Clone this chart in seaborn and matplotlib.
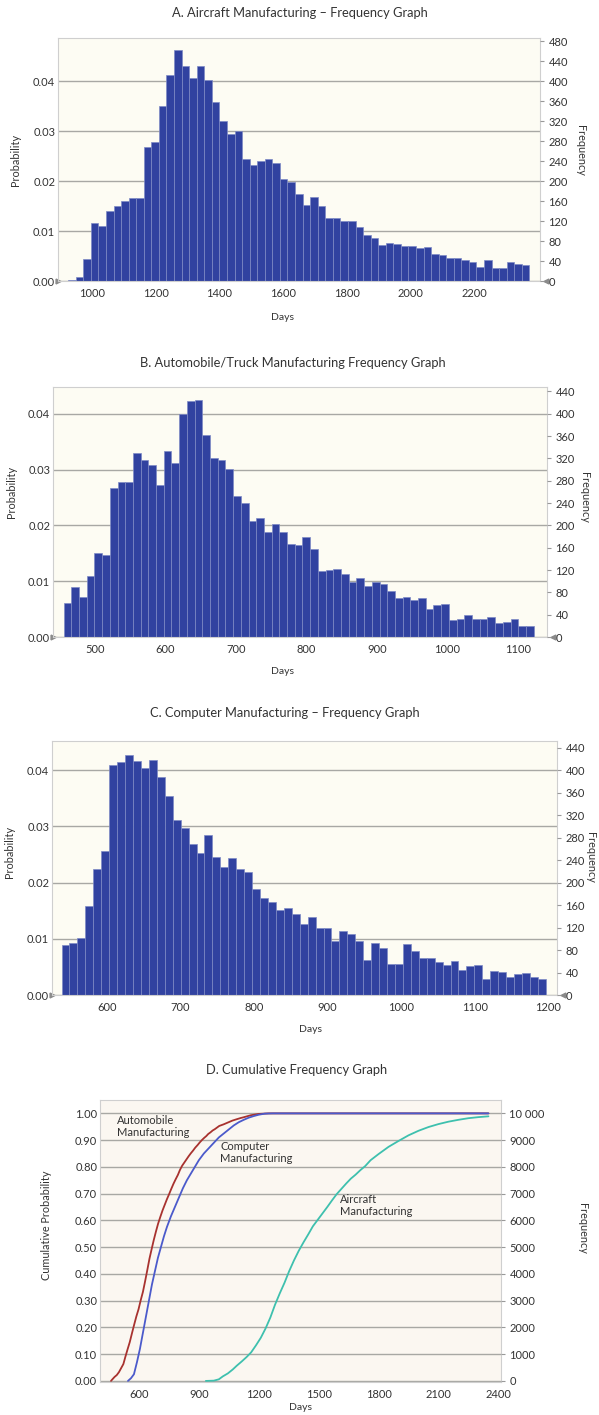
import numpy as np
import pandas as pd
import seaborn as sns
import matplotlib
matplotlib.use('Agg')
import matplotlib.pyplot as plt
from matplotlib.ticker import FuncFormatter


# histogram data (probability per bin)
aircraft_start = 925
aircraft_width = 23.75
aircraft_prob = [0.0003, 0.0008, 0.0045, 0.0117, 0.0110, 0.0140, 0.0150, 0.0160, 0.0166, 0.0167,
                 0.0268, 0.0278, 0.0350, 0.0412, 0.0462, 0.0431, 0.0406, 0.0430, 0.0402, 0.0358,
                 0.0320, 0.0295, 0.0300, 0.0245, 0.0233, 0.0240, 0.0245, 0.0237, 0.0205, 0.0199,
                 0.0175, 0.0152, 0.0169, 0.0151, 0.0127, 0.0127, 0.0120, 0.0120, 0.0108, 0.0093,
                 0.0087, 0.0072, 0.0076, 0.0074, 0.0071, 0.0071, 0.0066, 0.0069, 0.0055, 0.0053,
                 0.0047, 0.0047, 0.0043, 0.0039, 0.0028, 0.0043, 0.0027, 0.0027, 0.0039, 0.0034,
                 0.0032]

auto_start = 456
auto_width = 10.92
auto_prob = [0.0061, 0.0090, 0.0071, 0.0110, 0.0151, 0.0147, 0.0267, 0.0278, 0.0278, 0.0330,
             0.0318, 0.0309, 0.0273, 0.0334, 0.0312, 0.0400, 0.0423, 0.0424, 0.0362, 0.0320,
             0.0318, 0.0301, 0.0252, 0.0241, 0.0208, 0.0213, 0.0188, 0.0202, 0.0188, 0.0167,
             0.0165, 0.0180, 0.0157, 0.0119, 0.0120, 0.0121, 0.0113, 0.0099, 0.0106, 0.0091,
             0.0099, 0.0095, 0.0082, 0.0070, 0.0072, 0.0067, 0.0070, 0.0050, 0.0057, 0.0059,
             0.0030, 0.0032, 0.0040, 0.0033, 0.0032, 0.0035, 0.0025, 0.0027, 0.0033, 0.0019,
             0.0019]

computer_start = 538
computer_width = 10.8
computer_prob = [0.0089, 0.0092, 0.0101, 0.0159, 0.0224, 0.0257, 0.0409, 0.0414, 0.0427, 0.0417,
                 0.0404, 0.0419, 0.0388, 0.0355, 0.0312, 0.0298, 0.0268, 0.0253, 0.0285, 0.0246,
                 0.0228, 0.0243, 0.0224, 0.0218, 0.0189, 0.0172, 0.0165, 0.0151, 0.0155, 0.0145,
                 0.0126, 0.0138, 0.0119, 0.0119, 0.0096, 0.0114, 0.0108, 0.0096, 0.0063, 0.0093,
                 0.0084, 0.0055, 0.0056, 0.0091, 0.0079, 0.0065, 0.0066, 0.0058, 0.0054, 0.0060,
                 0.0044, 0.0052, 0.0053, 0.0028, 0.0043, 0.0041, 0.0032, 0.0038, 0.0039, 0.0032,
                 0.0029]

# cumulative curves
auto_days = [460, 467, 478, 489, 500, 511, 522, 532, 543, 554, 565, 576, 587, 598, 609, 620, 631,
             642, 653, 664, 674, 685, 696, 707, 718, 729, 740, 751, 762, 773, 784, 795, 805, 816,
             827, 838, 849, 860, 871, 882, 893, 904, 915, 926, 937, 947, 958, 969, 980, 991, 1002,
             1024, 1046, 1068, 1089, 1111, 1122, 1160, 1200, 1250, 2350]
auto_cum = [0.0, 0.006, 0.015, 0.022, 0.033, 0.048, 0.063, 0.09, 0.118, 0.145, 0.178, 0.21, 0.241,
            0.268, 0.302, 0.333, 0.373, 0.415, 0.458, 0.494, 0.526, 0.558, 0.588, 0.613, 0.637,
            0.658, 0.679, 0.698, 0.718, 0.737, 0.754, 0.77, 0.788, 0.804, 0.816, 0.828, 0.84,
            0.851, 0.861, 0.872, 0.881, 0.891, 0.9, 0.908, 0.915, 0.923, 0.929, 0.936, 0.941,
            0.947, 0.953, 0.959, 0.966, 0.973, 0.978, 0.983, 0.985, 0.993, 0.998, 1.0, 1.0]

computer_days = [545, 560, 575, 590, 605, 620, 635, 650, 665, 680, 695, 710, 725, 740, 760, 780,
                 800, 820, 840, 860, 880, 900, 925, 950, 975, 1000, 1025, 1050, 1075, 1100, 1125,
                 1150, 1175, 1200, 1230, 1270, 2350]
computer_cum = [0.0, 0.01, 0.025, 0.07, 0.12, 0.18, 0.24, 0.30, 0.36, 0.41, 0.46, 0.50, 0.54,
                0.575, 0.615, 0.65, 0.685, 0.72, 0.75, 0.775, 0.80, 0.825, 0.85, 0.87, 0.89, 0.91,
                0.925, 0.94, 0.955, 0.967, 0.976, 0.984, 0.99, 0.995, 0.999, 1.0, 1.0]

aircraft_days = [935, 975, 1000, 1020, 1045, 1070, 1090, 1115, 1140, 1162, 1186, 1210, 1234, 1258,
                 1281, 1305, 1329, 1352, 1376, 1400, 1424, 1448, 1471, 1495, 1519, 1543, 1566,
                 1590, 1614, 1638, 1661, 1685, 1709, 1733, 1760, 1800, 1850, 1900, 1950, 2000,
                 2050, 2100, 2150, 2200, 2250, 2300, 2350]
aircraft_cum = [0.0, 0.001, 0.006, 0.017, 0.028, 0.043, 0.057, 0.073, 0.09, 0.107, 0.133, 0.161,
                0.196, 0.237, 0.284, 0.327, 0.367, 0.41, 0.45, 0.486, 0.518, 0.548, 0.578, 0.602,
                0.626, 0.65, 0.674, 0.698, 0.718, 0.738, 0.756, 0.771, 0.788, 0.803, 0.825, 0.848,
                0.875, 0.897, 0.918, 0.935, 0.949, 0.96, 0.969, 0.976, 0.982, 0.986, 0.989]

titles = ['A. Aircraft Manufacturing \u2013 Frequency Graph',
          'B. Automobile/Truck Manufacturing Frequency Graph',
          'C. Computer Manufacturing \u2013 Frequency Graph',
          'D. Cumulative Frequency Graph']

BAR = '#3142a0'
EDGE = '#7e8ac6'
BG = '#fdfcf3'
BG_D = '#fbf7f1'
GRID = '#a8a8a4'
SPINE = '#cfcfcf'
TXT = '#333333'

sns.set_style('white')
plt.rcParams['font.family'] = ['Lato', 'DejaVu Sans']
plt.rcParams['text.color'] = TXT
plt.rcParams['xtick.color'] = TXT
plt.rcParams['ytick.color'] = TXT

W, H = 599, 1415
fig = plt.figure(figsize=(W / 100, H / 100), dpi=100)


def rect(l, t, r, b):
    return [l / W, 1 - b / H, (r - l) / W, (b - t) / H]


def style_axes(ax, bg):
    ax.set_facecolor(bg)
    for s in ax.spines.values():
        s.set_color(SPINE)
        s.set_linewidth(0.8)
    ax.grid(axis='y', color=GRID, lw=1)
    ax.grid(axis='x', visible=False)
    ax.set_axisbelow(True)
    ax.tick_params(axis='y', length=0, labelsize=8, pad=2)
    ax.tick_params(axis='x', length=3, color='#999999', labelsize=8, pad=2)
    ax.set_xlabel('')
    ax.set_ylabel('')


def hist_panel(pos, start, width, probs, xlim, ytop, xticks, rmax):
    ax = fig.add_axes(rect(*pos))
    edges = list(start + width * np.arange(len(probs) + 1))
    df = pd.DataFrame({'days': np.array(edges[:-1]) + width / 2, 'prob': probs})
    sns.histplot(data=df, x='days', weights='prob', bins=edges, ax=ax, color=BAR, alpha=1,
                 edgecolor=EDGE, linewidth=0.5)
    style_axes(ax, BG)
    ax.set_xlim(*xlim)
    ax.set_ylim(0, ytop)
    ax.set_xticks(xticks)
    ax.set_yticks([0, 0.01, 0.02, 0.03, 0.04])
    ax.yaxis.set_major_formatter(FuncFormatter(lambda v, p: f'{v:.2f}'))
    # little zero markers on both sides
    ax.plot([0], [0], marker='>', ms=3.5, color='#8a8a8a', transform=ax.transAxes, clip_on=False)
    ax.plot([1.012], [0], marker='<', ms=3.5, color='#8a8a8a', transform=ax.transAxes, clip_on=False)
    tw = ax.twinx()
    tw.set_ylim(0, ytop * 10000)
    tw.set_yticks(range(0, rmax + 1, 40))
    tw.tick_params(axis='y', length=3, color='#999999', labelsize=8, pad=3)
    for s in tw.spines.values():
        s.set_visible(False)
    tw.grid(False)
    return ax


hist_panel((58, 38, 540, 281), aircraft_start, aircraft_width, aircraft_prob,
           (893, 2407), 0.0487, [1000, 1200, 1400, 1600, 1800, 2000, 2200], 480)
hist_panel((53, 387, 547, 637), auto_start, auto_width, auto_prob,
           (441, 1141), 0.0448, [500, 600, 700, 800, 900, 1000, 1100], 440)
hist_panel((52, 741, 557, 995), computer_start, computer_width, computer_prob,
           (525, 1212), 0.0452, [600, 700, 800, 900, 1000, 1100, 1200], 440)

# panel D: cumulative curves
axd = fig.add_axes(rect(100, 1100, 501, 1382))
sns.lineplot(x=auto_days, y=auto_cum, ax=axd, color='#a8322f', lw=1.3)
sns.lineplot(x=computer_days, y=computer_cum, ax=axd, color='#4b5acb', lw=1.3)
sns.lineplot(x=aircraft_days, y=aircraft_cum, ax=axd, color='#3ec0ae', lw=1.3)
style_axes(axd, BG_D)
axd.set_xlim(405, 2413)
axd.set_ylim(-0.004, 1.05)
axd.set_xticks([600, 900, 1200, 1500, 1800, 2100, 2400])
axd.set_yticks(np.arange(0, 1.01, 0.1))
axd.yaxis.set_major_formatter(FuncFormatter(lambda v, p: f'{v:.2f}'))
twd = axd.twinx()
twd.set_ylim(-40, 10500)
twd.set_yticks(range(0, 10001, 1000))
twd.yaxis.set_major_formatter(FuncFormatter(lambda v, p: '10 000' if v == 10000 else f'{int(v)}'))
twd.tick_params(axis='y', length=3, color='#999999', labelsize=8, pad=3)
for s in twd.spines.values():
    s.set_visible(False)
twd.grid(False)

axd.text(490, 0.995, 'Automobile\nManufacturing', fontsize=8, va='top', ha='left', linespacing=1.15)
axd.text(1006, 0.898, 'Computer\nManufacturing', fontsize=8, va='top', ha='left', linespacing=1.15)
axd.text(1606, 0.70, 'Aircraft\nManufacturing', fontsize=8, va='top', ha='left', linespacing=1.15)

# titles and axis labels
for (x, y), t in zip([(300, 13), (293, 363), (285, 713), (297, 1070)], titles):
    fig.text(x / W, 1 - y / H, t, fontsize=9.3, ha='center', va='center')

for x, y in [(282, 318), (283, 671), (310, 1029), (300, 1408)]:
    fig.text(x / W, 1 - y / H, 'Days', fontsize=7.5, ha='center', va='center')

for x, y in [(16, 160), (12, 492), (10, 852)]:
    fig.text(x / W, 1 - y / H, 'Probability', fontsize=7.8, ha='center', va='center', rotation=90)
for x, y in [(580, 150), (585, 497), (590, 857), (582, 1228)]:
    fig.text(x / W, 1 - y / H, 'Frequency', fontsize=7.8, ha='center', va='center', rotation=-90)
fig.text(47 / W, 1 - 1225 / H, 'Cumulative Probability', fontsize=7.8, ha='center', va='center',
         rotation=90)

fig.savefig('out.png', dpi=100, facecolor='white')
